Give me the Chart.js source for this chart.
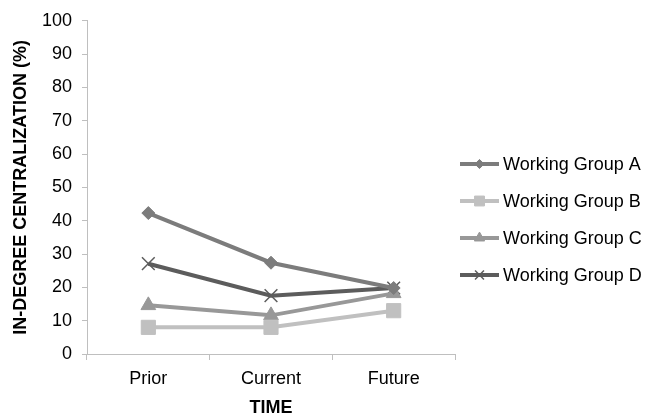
<!DOCTYPE html>
<html>
<head>
<meta charset="utf-8">
<script src="https://cdn.jsdelivr.net/npm/chart.js@4"></script>
<style>
  html, body { margin: 0; padding: 0; background: #fff; }
  #wrap { width: 657px; height: 417px; }
</style>
</head>
<body>
<div id="wrap"><canvas id="myChart" width="657" height="417"></canvas></div>
<script>
const times = ['Prior', 'Current', 'Future'];
const groupA = [42.3, 27.4, 19.8];
const groupB = [8, 8, 13];
const groupC = [14.6, 11.6, 18.2];
const groupD = [27.1, 17.5, 19.8];
const yTicks = [0, 10, 20, 30, 40, 50, 60, 70, 80, 90, 100];

const fontFam = '"Liberation Sans", Arial, sans-serif';

const series = [
    {label: 'Working Group A', data: groupA, color: '#7c7c7c', style: 'rectRot', r: 6.5},
    {label: 'Working Group B', data: groupB, color: '#c0c0c0', style: 'rect', r: 10},
    {label: 'Working Group C', data: groupC, color: '#989898', style: 'triangle', r: 8.5},
    {label: 'Working Group D', data: groupD, color: '#5c5c5c', style: 'crossRot', r: 9},
];

// legend: a short line with the marker on it, then the label
const lineLegend = {
    id: 'lineLegend',
    afterDraw(chart) {
        const ctx = chart.ctx;
        const x0 = 460, y0 = 164, gap = 37;
        chart.data.datasets.forEach((ds, i) => {
            const y = y0 + i * gap;
            ctx.save();
            ctx.strokeStyle = ds.borderColor;
            ctx.lineWidth = 4;
            ctx.beginPath();
            ctx.moveTo(x0, y);
            ctx.lineTo(x0 + 39, y);
            ctx.stroke();
            ctx.fillStyle = ds.pointBackgroundColor;
            ctx.strokeStyle = ds.pointBorderColor;
            ctx.lineWidth = ds.pointBorderWidth;
            Chart.helpers.drawPoint(ctx, {
                pointStyle: ds.pointStyle,
                radius: ds.pointRadius * 0.7,
                borderWidth: ds.pointBorderWidth,
                rotation: 0
            }, x0 + 19.5, y);
            ctx.restore();
            ctx.save();
            ctx.fillStyle = '#000';
            ctx.font = '18px ' + fontFam;
            ctx.textBaseline = 'middle';
            ctx.fillText(ds.label, x0 + 43, y + 1);
            ctx.restore();
        });
    }
};

const ctx = document.getElementById('myChart').getContext('2d');
const chart = new Chart(ctx, {
    type: 'line',
    data: {
        labels: times,
        datasets: series.map(s => ({
            label: s.label,
            data: s.data,
            borderColor: s.color,
            backgroundColor: s.color,
            borderWidth: 4,
            pointStyle: s.style,
            pointRadius: s.r,
            pointBackgroundColor: s.color,
            pointBorderColor: s.color,
            pointBorderWidth: s.style === 'crossRot' ? 1.5 : 1,
            fill: false,
            tension: 0
        }))
    },
    options: {
        responsive: false,
        animation: false,
        layout: {padding: {top: 17.5, right: 202, left: 0, bottom: 0}},
        plugins: {legend: {display: false}, tooltip: {enabled: false}},
        scales: {
            x: {
                offset: true,
                afterFit: axis => { axis.height = 63; },
                grid: {drawOnChartArea: false, offset: true, color: '#bfbfbf', tickLength: 6},
                border: {color: '#bfbfbf'},
                ticks: {color: '#000', font: {size: 18, family: fontFam}, padding: 8},
                title: {display: true, text: 'TIME', color: '#000',
                        font: {size: 18, weight: 'bold', family: fontFam, lineHeight: 1},
                        padding: {top: 0, bottom: 0}}
            },
            y: {
                min: 0,
                max: 100,
                afterFit: axis => { axis.width = 87; },
                afterBuildTicks: axis => { axis.ticks = yTicks.map(v => ({value: v})); },
                grid: {drawOnChartArea: false, color: '#bfbfbf', tickLength: 5},
                border: {color: '#bfbfbf'},
                ticks: {color: '#000', font: {size: 18, family: fontFam}, padding: 10},
                title: {display: true, text: 'IN-DEGREE CENTRALIZATION (%)', color: '#000',
                        font: {size: 18, weight: 'bold', family: fontFam, lineHeight: 1},
                        padding: {top: 12, bottom: 0}}
            }
        }
    },
    plugins: [lineLegend]
});
</script>
</body>
</html>
